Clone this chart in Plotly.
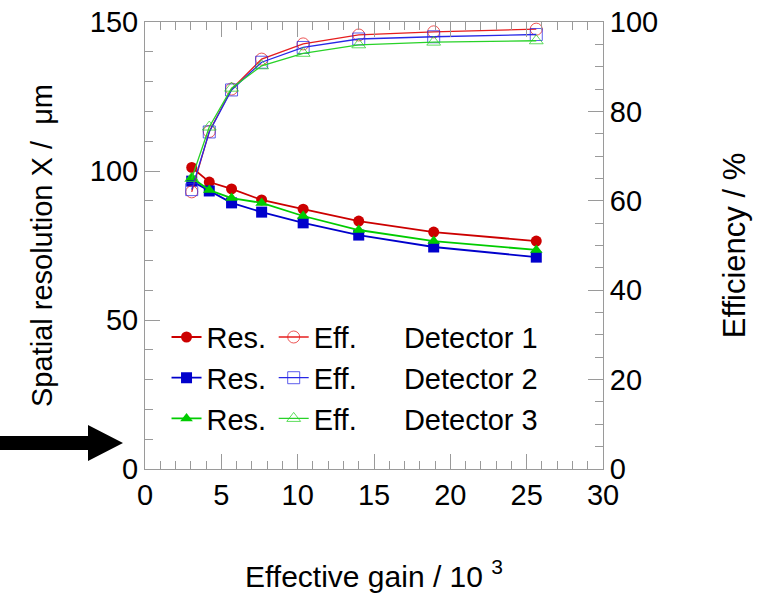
import plotly.graph_objects as go

gain = [3.06, 4.21, 5.67, 7.64, 10.36, 14.0, 18.91, 25.63]

res_det1 = [101.2, 96.3, 94.0, 90.3, 87.2, 83.2, 79.5, 76.5]
res_det2 = [96.6, 93.3, 89.3, 86.2, 82.6, 78.5, 74.5, 71.1]
res_det3 = [97.7, 93.6, 90.9, 89.3, 84.9, 80.2, 76.5, 73.5]

eff_det1 = [62.0, 75.5, 85.0, 91.7, 95.1, 97.1, 97.8, 98.4]
eff_det2 = [62.5, 75.4, 84.8, 91.0, 94.3, 96.2, 96.7, 97.2]
eff_det3 = [65.0, 76.5, 85.2, 90.2, 93.0, 94.9, 95.5, 95.8]

detector_names = ["Detector 1", "Detector 2", "Detector 3"]
colors = ["rgb(204,0,0)", "rgb(0,0,204)", "rgb(0,204,0)"]
eff_colors = ["rgb(230,30,30)", "rgb(40,40,230)", "rgb(40,210,40)"]
res_symbols = ["circle", "square", "triangle-up"]
eff_symbols = ["circle-open", "square-open", "triangle-up-open"]

FONT = "Liberation Sans, Arial, sans-serif"

fig = go.Figure()
res_all = [res_det1, res_det2, res_det3]
eff_all = [eff_det1, eff_det2, eff_det3]

for i in range(3):
    fig.add_trace(go.Scatter(
        x=gain, y=res_all[i], mode="lines+markers", name="Res.",
        line=dict(color=colors[i], width=1.8),
        marker=dict(symbol=res_symbols[i], size=11, color=colors[i]),
        legend="legend", legendgroup=f"r{i}", yaxis="y"))
for i in range(3):
    fig.add_trace(go.Scatter(
        x=gain, y=eff_all[i], mode="lines+markers", name="Eff.",
        line=dict(color=eff_colors[i], width=1.3),
        marker=dict(symbol=eff_symbols[i], size=12, color=eff_colors[i], opacity=0.75,
                    line=dict(width=1)),
        legend="legend2", legendgroup=f"e{i}", yaxis="y2"))
for i in range(3):
    fig.add_trace(go.Scatter(
        x=[None], y=[None], mode="lines", name=detector_names[i],
        line=dict(color="rgba(0,0,0,0)", width=0),
        legend="legend3", legendgroup=f"d{i}", yaxis="y"))

leg_common = dict(font=dict(family=FONT, size=29, color="black"), bgcolor="rgba(0,0,0,0)",
                  traceorder="grouped", tracegroupgap=0, yanchor="top", y=0.352,
                  xanchor="left", itemclick=False)

axis_line = "#9a9a9a"

fig.update_layout(
    width=766, height=593,
    margin=dict(l=145, r=163, t=22, b=124, autoexpand=False),
    paper_bgcolor="white", plot_bgcolor="white",
    font=dict(family=FONT, size=29, color="black"),
    showlegend=True,
    legend=dict(x=0.047, **leg_common),
    legend2=dict(x=0.281, **leg_common),
    legend3=dict(x=0.478, **leg_common),
    xaxis=dict(
        range=[0, 30], dtick=5, ticks="inside", ticklen=15, tickcolor=axis_line,
        showline=True, linecolor=axis_line, linewidth=1, mirror="ticks",
        showgrid=False, zeroline=False, automargin=False,
        minor=dict(dtick=1, ticks="inside", ticklen=8, tickcolor=axis_line, showgrid=False),
        tickfont=dict(size=29),
        title=dict(text="Effective gain / 10 <sup>3</sup>", font=dict(size=30), standoff=58),
    ),
    yaxis=dict(
        range=[0, 150], dtick=50, ticks="inside", ticklen=15, tickcolor=axis_line,
        showline=True, linecolor=axis_line, linewidth=1,
        showgrid=False, zeroline=False, automargin=False,
        minor=dict(dtick=10, ticks="inside", ticklen=8, tickcolor=axis_line, showgrid=False),
        tickfont=dict(size=29),
        title=dict(text="Spatial resolution X /  μm", font=dict(size=29), standoff=28),
    ),
    yaxis2=dict(
        range=[0, 100], dtick=20, ticks="inside", ticklen=15, tickcolor=axis_line,
        overlaying="y", side="right",
        showline=True, linecolor=axis_line, linewidth=1,
        showgrid=False, zeroline=False, automargin=False,
        minor=dict(dtick=5, ticks="inside", ticklen=8, tickcolor=axis_line, showgrid=False),
        tickfont=dict(size=29),
        title=dict(text="Efficiency / %", font=dict(size=31), standoff=66),
    ),
)

# annotation arrow pointing at the left axis near zero
fig.add_shape(
    type="path", xref="paper", yref="paper", xsizemode="pixel", ysizemode="pixel",
    xanchor=0, yanchor=0,
    path="M-145,19 L-57,19 L-57,8 L-22,26 L-57,44 L-57,33 L-145,33 Z",
    fillcolor="black", line=dict(color="black", width=0), layer="above")

fig.write_html("out.html")
